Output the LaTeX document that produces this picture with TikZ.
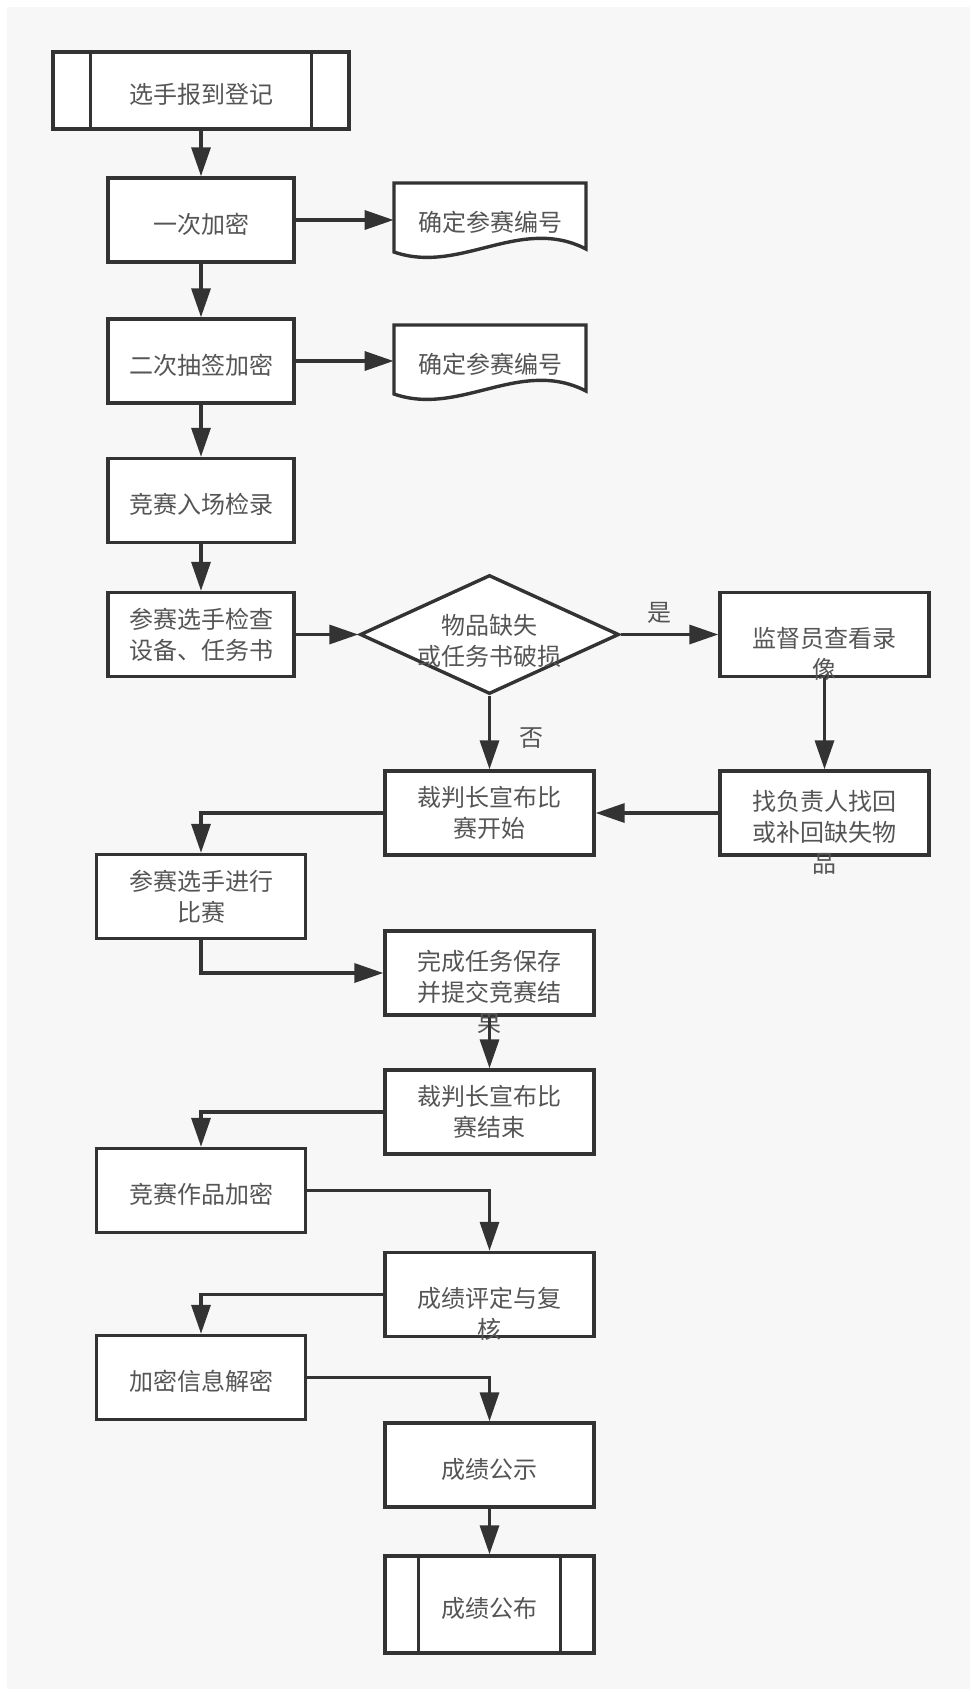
\documentclass[tikz,border=0pt]{standalone}
\usepackage{fontspec}
\setmainfont{Noto Sans CJK SC}
\usetikzlibrary{arrows.meta,calc,shapes.geometric}
\definecolor{ink}{HTML}{333333}
\definecolor{words}{HTML}{555555}
\definecolor{paper}{HTML}{F7F7F7}
\tikzset{
	txt/.style={inner sep=0pt, text=words, align=center, font=\fontsize{12}{15.5}\selectfont},
	lowtxt/.style={txt, execute at begin node={\rule{0pt}{1.2em}}},
	box/.style={lowtxt, draw=ink, line width=1.7pt, fill=white, rectangle, minimum width=93pt, minimum height=42pt},
	wide/.style={box, minimum width=104.5pt},
	decide/.style={box, diamond, minimum width=129.5pt, minimum height=59.5pt},
	doc/.style={lowtxt, minimum width=96pt, minimum height=35pt},
	flow/.style={draw=ink, line width=1.7pt, -{Triangle[length=14.5pt,width=9.5pt]}},
	lbl/.style={txt},
}
% double side bars of a predefined process
\def\sidebars[#1](#2)(#3){\draw[#1] ($(#2.north west)+(#3,0)$) -- ($(#2.south west)+(#3,0)$) ($(#2.north east)-(#3,0)$) -- ($(#2.south east)-(#3,0)$);}
% document with wavy bottom, around centre
\def\docshape[#1](#2,#3){\draw[#1] (#2-96,#3-35) -- (#2+96,#3-35) -- (#2+96,#3+31) .. controls (#2+30,#3-3) and (#2-30,#3+57) .. (#2-96,#3+34) -- cycle;}

\begin{document}
\begin{tikzpicture}[x=0.5pt, y=-0.5pt]
			%%%%% START %%%%%
			
			\useasboundingbox (0,0) rectangle (970,1692);
			\fill[paper] (7,7) rectangle (970,1689);
			
			\node[box, minimum width=148pt, minimum height=38.5pt] (reg) at (201,90.5) {选手报到登记};
			\sidebars[draw=ink, line width=1.7pt](reg)(39);
			
			\node[box] (enc1) at (201,220) {一次加密};
			\docshape[draw=ink, line width=1.7pt, fill=white](490,218);
			\node[doc] (num1) at (490,218) {确定参赛编号};
			
			\node[box] (enc2) at (201,361) {二次抽签加密};
			\docshape[draw=ink, line width=1.7pt, fill=white](490,360);
			\node[doc] (num2) at (490,360) {确定参赛编号};
			
			\node[box] (check) at (201,500.5) {竞赛入场检录};
			\node[box] (inspect) at (201,634.5) {参赛选手检查\\设备、任务书};
			
			\node[decide] (lost) at (489.5,634.5) {};
			\node[txt] (lost-t) at ($(lost)+(0,6)$) {物品缺失\\或任务书破损};
			
			\node[wide] (video) at (824.5,634.5) {};
			\node[txt] (video-t) at ($(video)+(0,19.5)$) {监督员查看录\\像};
			\node[wide] (find) at (824.5,813) {};
			\node[txt] (find-t) at ($(find)+(0,19.5)$) {找负责人找回\\或补回缺失物\\品};
			
			\node[wide] (start) at (489.5,813) {裁判长宣布比\\赛开始};
			\node[wide] (play) at (201,896.5) {参赛选手进行\\比赛};
			\node[wide] (submit) at (489.5,973) {};
			\node[txt] (submit-t) at ($(submit)+(0,19.5)$) {完成任务保存\\并提交竞赛结\\果};
			\node[wide] (finish) at (489.5,1112) {裁判长宣布比\\赛结束};
			
			\node[wide] (work) at (201,1190.5) {竞赛作品加密};
			\node[wide] (review) at (489.5,1294.5) {};
			\node[txt] (review-t) at ($(review)+(0,19.5)$) {成绩评定与复\\核};
			\node[wide] (decrypt) at (201,1377.5) {加密信息解密};
			\node[wide] (show) at (489.5,1465) {成绩公示};
			
			\node[wide, minimum height=48.5pt] (publish) at (489.5,1604.5) {成绩公布};
			\sidebars[draw=ink, line width=1.7pt](publish)(35);
			
			\draw[flow] (reg) -- (enc1);
			\draw[flow] (enc1.east) -- (enc1.east -| num1.west);
			\draw[flow] (enc1) -- (enc2);
			\draw[flow] (enc2.east) -- (enc2.east -| num2.west);
			\draw[flow] (enc2) -- (check);
			\draw[flow] (check) -- (inspect);
			\draw[flow] (inspect) -- (lost);
			\draw[flow] (lost) -- node[lbl, pos=0.4, above=4.75pt] (yes) {是} (video);
			\draw[flow] (lost) -- node[lbl, pos=0.57, right=14pt] (no) {否} (start);
			\draw[flow] (video) -- (find);
			\draw[flow] (find) -- (start);
			\draw[flow] (start.west) -| (play.north);
			\draw[flow] (play.south) |- (submit.west);
			\draw[flow] (submit) -- (finish);
			\draw[flow] (finish.west) -| (work.north);
			\draw[flow] (work.east) -| (review.north);
			\draw[flow] (review.west) -| (decrypt.north);
			\draw[flow] (decrypt.east) -| (show.north);
			\draw[flow] (show) -- (publish);
			
			%%%%% END %%%%%
\end{tikzpicture}
\end{document}
